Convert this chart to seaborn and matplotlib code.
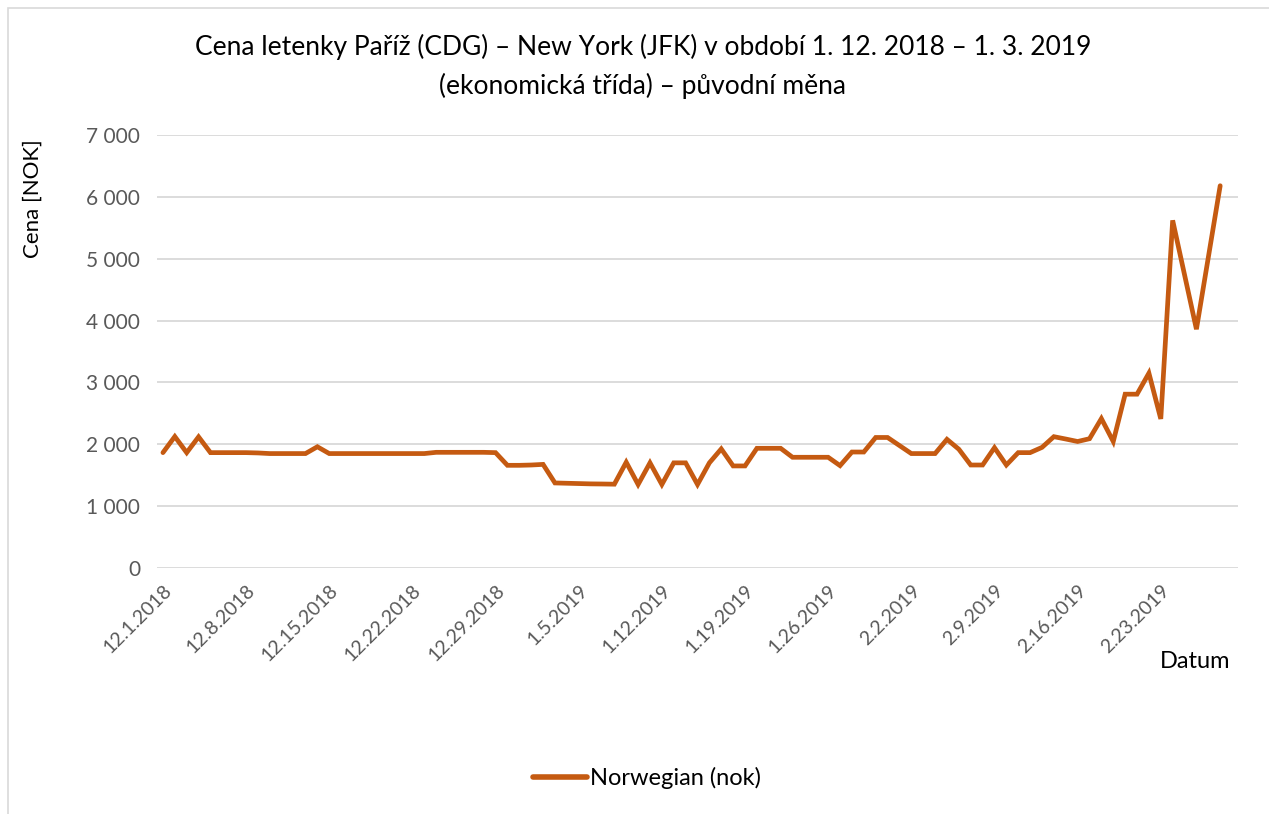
import pandas as pd
import matplotlib.pyplot as plt
import matplotlib.ticker as mticker
from matplotlib.patches import Rectangle
import seaborn as sns

# daily prices, 1.12.2018 - 28.2.2019 (NOK)
start_date = "2018-12-01"
prices = [
    1865, 2125, 1865, 2120, 1865, 1865, 1865, 1865, 1860, 1850,
    1850, 1850, 1850, 1960, 1850, 1850, 1850, 1850, 1850, 1850,
    1850, 1850, 1850, 1870, 1870, 1870, 1870, 1870, 1865, 1660,
    1660, 1665, 1675, 1375, 1370, 1365, 1360, 1358, 1355, 1710,
    1350, 1700, 1350, 1700, 1700, 1350, 1700, 1925, 1650, 1650,
    1935, 1935, 1935, 1790, 1790, 1790, 1790, 1655, 1875, 1875,
    2110, 2110, 1980, 1850, 1850, 1850, 2080, 1920, 1665, 1665,
    1945, 1665, 1865, 1865, 1950, 2123, 2085, 2045, 2090, 2415,
    2045, 2810, 2810, 3150, 2410, 5620, 4740, 3860, 5020, 6180,
]
series_name = "Norwegian (nok)"
tick_labels = ["12.1.2018", "12.8.2018", "12.15.2018", "12.22.2018", "12.29.2018",
               "1.5.2019", "1.12.2019", "1.19.2019", "1.26.2019", "2.2.2019",
               "2.9.2019", "2.16.2019", "2.23.2019"]
title_lines = ["Cena letenky Paříž (CDG) – New York (JFK) v období 1. 12. 2018 – 1. 3. 2019",
               "(ekonomická třída) – původní měna"]

df = pd.DataFrame({
    "Datum": pd.date_range(start_date, periods=len(prices), freq="D"),
    "Cena": prices,
    "Aerolinka": series_name,
})

sns.set_style("white")
plt.rcParams["font.family"] = ["Lato", "DejaVu Sans"]
plt.rcParams["text.color"] = "black"

W, H = 1269, 814
fig = plt.figure(figsize=(W / 100, H / 100), dpi=100)
fig.patches.append(Rectangle((8 / W, -0.05), 1.2, 1 - 8 / H + 0.05, transform=fig.transFigure,
                             fill=False, edgecolor="#D9D9D9", lw=1.2))
ax = fig.add_axes([157 / W, 1 - 568 / H, (1238 - 157) / W, (568 - 135) / H])

line_color = "#C55A11"
sns.lineplot(data=df, x="Datum", y="Cena", hue="Aerolinka", palette=[line_color],
             linewidth=3.4, ax=ax, legend=False, solid_joinstyle="miter")

ax.set_ylim(0, 7000)
ax.yaxis.set_major_locator(mticker.MultipleLocator(1000))
ax.yaxis.set_major_formatter(mticker.FuncFormatter(lambda v, p: f"{int(v):,}".replace(",", " ")))
ax.grid(axis="y", color="#D9D9D9", lw=1.3)
ax.grid(axis="x", visible=False)
for s in ax.spines.values():
    s.set_visible(False)

first = df["Datum"].iloc[0]
ax.set_xlim(first - pd.Timedelta(hours=12), first + pd.Timedelta(days=90, hours=12))
tick_pos = pd.date_range(first, periods=len(tick_labels), freq="7D")
ax.set_xticks(tick_pos)
ax.set_xticklabels(tick_labels, rotation=45, ha="right", rotation_mode="anchor")
ax.tick_params(axis="both", length=0, labelcolor="#595959")
ax.tick_params(axis="x", pad=10, labelsize=14)
ax.tick_params(axis="y", pad=12, labelsize=15)

ax.set_xlabel("")
ax.set_ylabel("Cena [NOK]", fontsize=16, color="black")
ax.yaxis.set_label_coords(-0.106, 0.852)
ax.text(0.960, -0.217, "Datum", transform=ax.transAxes, ha="center", va="center",
        fontsize=17, color="black")

fig.text(643 / W, 1 - 47 / H, title_lines[0], ha="center", va="center", fontsize=19, color="black")
fig.text(643 / W, 1 - 86 / H, title_lines[1], ha="center", va="center", fontsize=19, color="black")

handle = plt.Line2D([], [], color=line_color, lw=4)
fig.legend([handle], [series_name], loc="center", bbox_to_anchor=(647 / W, 1 - 778 / H),
           frameon=False, fontsize=17, handlelength=2.3, handletextpad=0.15)

fig.savefig("out.png", dpi=100)
